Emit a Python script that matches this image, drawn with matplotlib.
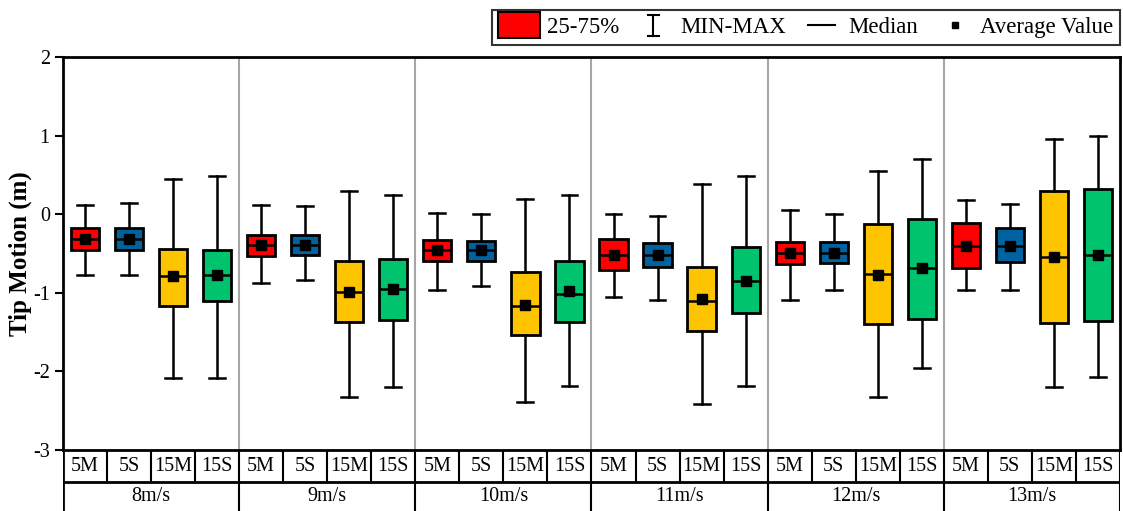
import matplotlib
matplotlib.use("Agg")
import matplotlib.pyplot as plt
from matplotlib.patches import Rectangle
from matplotlib.lines import Line2D
from matplotlib.legend_handler import HandlerBase

plt.rcParams['font.family'] = ['Liberation Serif', 'DejaVu Serif']

groups = ['8m/s', '9m/s', '10m/s', '11m/s', '12m/s', '13m/s']
cases = ['5M', '5S', '15M', '15S']
colors = ['#FF0000', '#0063A0', '#FFC400', '#00C46D']

# per group, per case: values in order of cases
whis_hi = [[0.12, 0.14, 0.45, 0.48],
           [0.12, 0.11, 0.29, 0.25],
           [0.01, 0.00, 0.19, 0.25],
           [0.00, -0.02, 0.39, 0.48],
           [0.05, 0.00, 0.55, 0.70],
           [0.18, 0.13, 0.96, 0.99]]
q3 = [[-0.18, -0.18, -0.44, -0.46],
      [-0.26, -0.26, -0.59, -0.57],
      [-0.33, -0.34, -0.74, -0.59],
      [-0.32, -0.37, -0.67, -0.42],
      [-0.36, -0.36, -0.13, -0.06],
      [-0.11, -0.18, 0.30, 0.32]]
medians = [[-0.32, -0.31, -0.79, -0.77],
           [-0.39, -0.39, -0.99, -0.95],
           [-0.46, -0.46, -1.17, -1.01],
           [-0.52, -0.52, -1.11, -0.85],
           [-0.49, -0.49, -0.76, -0.68],
           [-0.40, -0.40, -0.54, -0.52]]
means = [[-0.32, -0.31, -0.79, -0.78],
         [-0.39, -0.39, -0.99, -0.95],
         [-0.46, -0.46, -1.15, -0.98],
         [-0.52, -0.52, -1.08, -0.85],
         [-0.49, -0.49, -0.77, -0.69],
         [-0.40, -0.40, -0.54, -0.52]]
q1 = [[-0.46, -0.46, -1.17, -1.11],
      [-0.53, -0.52, -1.37, -1.35],
      [-0.60, -0.60, -1.54, -1.37],
      [-0.71, -0.67, -1.49, -1.26],
      [-0.63, -0.62, -1.40, -1.33],
      [-0.68, -0.61, -1.39, -1.36]]
whis_lo = [[-0.78, -0.78, -2.08, -2.09],
           [-0.87, -0.84, -2.32, -2.20],
           [-0.96, -0.91, -2.39, -2.19],
           [-1.06, -1.09, -2.41, -2.18],
           [-1.09, -0.97, -2.32, -1.96],
           [-0.97, -0.96, -2.20, -2.07]]
yticks = [-3, -2, -1, 0, 1, 2]
legend_labels = ['25-75%', 'MIN-MAX', 'Median', 'Average Value']

ncase = len(cases)
nslot = len(groups) * ncase

fig = plt.figure(figsize=(11.23, 5.11), dpi=100)
ax = fig.add_axes([0.0561, 0.1194, 0.9412, 0.7691])

stats, positions, facecols = [], [], []
for g in range(len(groups)):
    for c in range(ncase):
        stats.append(dict(whislo=whis_lo[g][c], q1=q1[g][c], med=medians[g][c],
                          q3=q3[g][c], whishi=whis_hi[g][c], mean=means[g][c],
                          fliers=[]))
        positions.append(g * ncase + c + 0.5)
        facecols.append(colors[c])

bp = ax.bxp(stats, positions=positions, widths=0.64, patch_artist=True,
            showmeans=True, showfliers=False,
            boxprops=dict(edgecolor='black', linewidth=2.0),
            medianprops=dict(color='black', linewidth=1.8),
            whiskerprops=dict(color='black', linewidth=1.8),
            capprops=dict(color='black', linewidth=1.8),
            capwidths=0.36,
            meanprops=dict(marker='s', markerfacecolor='black',
                           markeredgecolor='black', markersize=7),
            zorder=3)
for patch, fc in zip(bp['boxes'], facecols):
    patch.set_facecolor(fc)

for g in range(1, len(groups)):
    ax.axvline(g * ncase, color='#A6A6A6', linewidth=1.5, zorder=1)

ax.set_xlim(0, nslot)
ax.set_ylim(-3, 2)
ax.set_yticks(yticks)
ax.set_yticklabels([str(t) for t in yticks])
ax.set_xticks([])
ax.tick_params(axis='y', direction='out', length=6, width=1.5, labelsize=14.5)
for s in ax.spines.values():
    s.set_linewidth(2.0)
ax.set_ylabel('Tip Motion (m)', fontsize=18, fontweight='bold', labelpad=1)

# category table below axes
tax = fig.add_axes([0.0561, -0.02, 0.9412, 0.1394])
tax.set_xlim(0, nslot)
tax.set_ylim(-0.3, 1.0)
tax.axis('off')
y_top, y_mid = 1.0, 0.415
tax.hlines(y_mid, 0, nslot, color='black', linewidth=2.0)
tax.vlines(list(range(nslot + 1)), y_mid, y_top, color='black', linewidth=1.5)
tax.vlines([g * ncase for g in range(len(groups) + 1)], -0.3, y_mid,
           color='black', linewidth=1.5)
tax.vlines([0], -0.3, y_top, color='black', linewidth=2.0)
for g in range(len(groups)):
    for c in range(ncase):
        tax.text(g * ncase + c + 0.5, (y_top + y_mid) / 2, cases[c],
                 ha='center', va='center', fontsize=14.5)
    tax.text(g * ncase + ncase / 2, 0.15, groups[g], ha='center', va='center',
             fontsize=14.5)


class WhiskerHandler(HandlerBase):
    def create_artists(self, legend, orig_handle, xdescent, ydescent, width,
                       height, fontsize, trans):
        cx = width / 2 - xdescent
        y0 = -ydescent - height * 0.15
        y1 = -ydescent + height * 1.15
        cw = height * 0.35
        arts = [Line2D([cx, cx], [y0, y1], color='black', lw=1.5),
                Line2D([cx - cw, cx + cw], [y0, y0], color='black', lw=1.5),
                Line2D([cx - cw, cx + cw], [y1, y1], color='black', lw=1.5)]
        for a in arts:
            a.set_transform(trans)
        return arts


class MedianHandler(HandlerBase):
    def create_artists(self, legend, orig_handle, xdescent, ydescent, width,
                       height, fontsize, trans):
        y = height / 2 - ydescent
        a = Line2D([-xdescent + width * 0.2, -xdescent + width * 0.85], [y, y],
                   color='black', lw=1.5)
        a.set_transform(trans)
        return [a]


class MarkerHandler(HandlerBase):
    def create_artists(self, legend, orig_handle, xdescent, ydescent, width,
                       height, fontsize, trans):
        y = height / 2 - ydescent
        a = Line2D([width * 0.55 - xdescent], [y], marker='s', color='black',
                   markersize=5, linestyle='none')
        a.set_transform(trans)
        return [a]


class BoxHandler(HandlerBase):
    def create_artists(self, legend, orig_handle, xdescent, ydescent, width,
                       height, fontsize, trans):
        r = Rectangle((-xdescent, -ydescent - height * 0.3), width, height * 1.6,
                      facecolor=colors[0], edgecolor='black', lw=1.5)
        r.set_transform(trans)
        return [r]


class _W: pass
class _M: pass
class _A: pass
class _B: pass

leg = ax.legend([_B(), _W(), _M(), _A()], legend_labels,
                handler_map={_B: BoxHandler(), _W: WhiskerHandler(),
                             _M: MedianHandler(), _A: MarkerHandler()},
                loc='lower right', bbox_to_anchor=(1.0, 1.03), borderaxespad=0,
                ncol=4, fontsize=16.5, frameon=True, fancybox=False,
                edgecolor='black', handlelength=1.8, handletextpad=0.3,
                columnspacing=0.6, borderpad=0.3)
leg.get_frame().set_linewidth(1.5)

fig.savefig('out.png', dpi=100)
